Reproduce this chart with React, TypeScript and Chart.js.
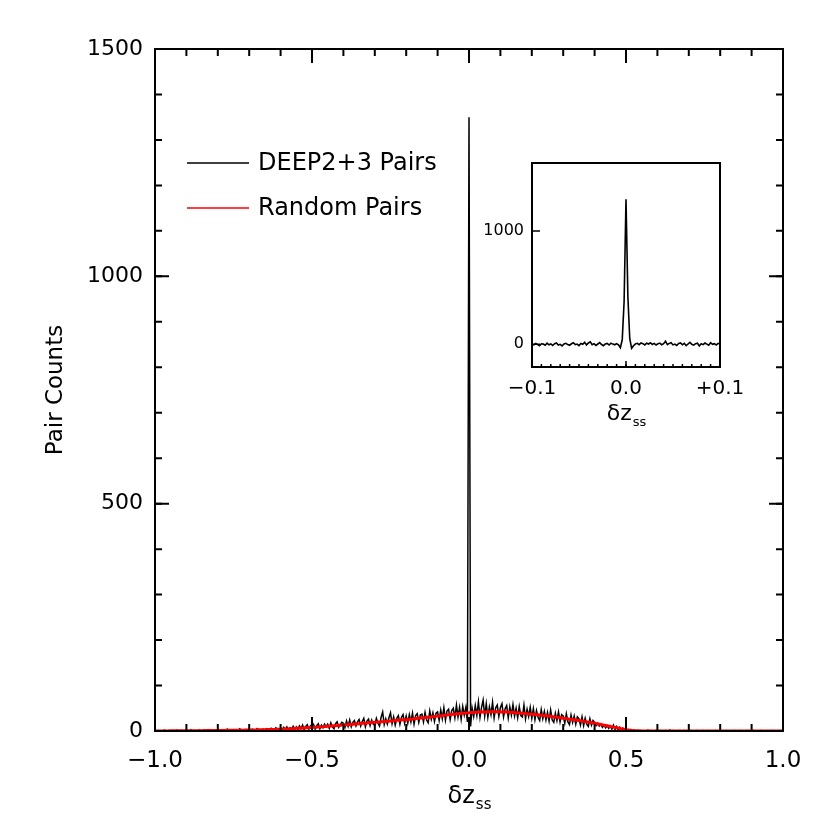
import React, { useEffect, useRef } from "react";
import { Chart, registerables } from "chart.js";

Chart.register(...registerables);

const FONT_FAMILY = '"DejaVu Sans", sans-serif';
const FONT_WEIGHT = "400";

// ---------- main panel data ----------
const deepStart = -1.0;
const deepBinWidth = 0.005;
// DEEP2+3 pair counts, bins of 0.005 from -1.000 to +1.000
const deepPairs = [
  0, 0, 1, 0, 0, 0, 2, 0, 0, 1,
  0, 1, 0, 0, 2, 0, 0, 1, 0, 0,
  1, 0, 0, 3, 0, 1, 0, 0, 2, 1,
  0, 2, 1, 0, 3, 1, 0, 2, 1, 0,
  2, 0, 1, 3, 1, 0, 4, 1, 2, 0,
  1, 3, 0, 2, 5, 1, 2, 0, 3, 2,
  3, 1, 4, 2, 0, 5, 2, 3, 1, 4,
  2, 5, 3, 1, 6, 4, 2, 7, 3, 4,
  6, 2, 8, 3, 9, 1, 7, 4, 10, 3,
  9, 3, 11, 5, 13, 2, 10, 14, 4, 11,
  6, 14, 4, 12, 16, 5, 13, 7, 15, 9,
  15, 6, 18, 9, 5, 16, 20, 8, 14, 19,
  17, 8, 22, 10, 24, 9, 19, 23, 11, 20,
  25, 11, 21, 28, 9, 22, 26, 12, 24, 15,
  13, 28, 17, 11, 30, 42, 14, 27, 15, 29,
  40, 16, 31, 13, 28, 34, 15, 30, 36, 17,
  33, 17, 36, 20, 39, 15, 34, 38, 19, 35,
  37, 20, 41, 24, 18, 44, 26, 40, 21, 39,
  42, 23, 46, 27, 51, 24, 44, 48, 25, 45,
  50, 29, 57, 31, 52, 26, 54, 35, 52, 20,
  1350, 10, 50, 32, 56, 34, 64, 30, 52, 68,
  33, 60, 30, 53, 36, 63, 29, 51, 57, 32,
  52, 60, 31, 49, 56, 29, 53, 35, 58, 33,
  50, 29, 54, 34, 31, 57, 27, 48, 32, 52,
  28, 49, 25, 45, 30, 23, 47, 27, 43, 24,
  41, 22, 46, 24, 19, 39, 23, 42, 20, 36,
  33, 17, 38, 20, 14, 35, 19, 33, 15, 31,
  27, 13, 31, 12, 28, 15, 10, 27, 13, 23,
  19, 12, 17, 11, 14, 8, 13, 7, 12, 6,
  11, 4, 13, 3, 10, 2, 8, 1, 6, 2,
  3, 1, 2, 0, 1, 2, 0, 1, 0, 1,
  0, 1, 0, 0, 2, 0, 1, 0, 0, 1,
  0, 0, 1, 0, 0, 1, 0, 0, 2, 0,
  1, 0, 0, 0, 1, 0, 0, 1, 0, 0,
  0, 1, 0, 0, 0, 1, 0, 0, 0, 1,
  0, 0, 1, 0, 0, 0, 0, 1, 0, 0,
  1, 0, 0, 0, 1, 0, 0, 0, 0, 1,
  0, 0, 0, 1, 0, 0, 0, 1, 0, 0,
  0, 1, 0, 0, 0, 0, 1, 0, 0, 0,
  0, 0, 0, 1, 0, 0, 0, 0, 1, 0, 0,
];

const randomStart = -1.0;
const randomBinWidth = 0.01;
// Random pair counts, bins of 0.01 from -1.00 to +1.00
const randomPairs = [
  0, 0, 0, 0, 0, 0.3, 0.3, 0.4, 0.5, 0.5,
  0.5, 0.6, 0.6, 0.7, 0.8, 0.8, 0.9, 1, 1, 1.1,
  1.2, 1.2, 1.3, 1.4, 1.5, 1.5, 1.6, 1.8, 1.9, 2,
  2.1, 2.3, 2.4, 2.6, 2.8, 3, 3.1, 3.3, 3.5, 3.8,
  4, 4.3, 4.6, 5, 5.3, 5.8, 6.1, 6.5, 7, 7.4,
  8, 8.3, 8.9, 9.2, 9.8, 10.4, 10.9, 11.6, 12, 12.7,
  13, 13.8, 14.2, 15, 15.4, 16.2, 16.8, 17.3, 18.1, 18.6,
  19, 19.8, 20.2, 21.1, 21.5, 22.2, 22.8, 23.4, 24.1, 24.6,
  25, 25.9, 26.5, 27.4, 28, 29, 29.6, 30.5, 31.2, 32.1,
  33, 33.6, 34.5, 35.3, 36.2, 37, 37.5, 38.4, 39, 39.6,
  40, 40.8, 41.2, 41.6, 42.3, 42, 42.6, 42.4, 42.9, 42.5,
  42, 42.4, 41.8, 41.5, 40.9, 40, 39.7, 39, 38.4, 37.6,
  37, 36.3, 35.5, 34.8, 34, 33, 32.2, 31, 30.1, 29,
  28, 27.1, 26, 25.1, 24, 23, 21.9, 20.6, 19.5, 18.2,
  17, 15.6, 14.2, 12.8, 11.4, 10, 8.5, 7, 5.5, 4.2,
  3, 2, 1.2, 0.7, 0.4, 0.2, 0.1, 0, 0, 0,
  0, 0, 0, 0, 0, 0, 0, 0, 0, 0,
  0, 0, 0, 0, 0, 0, 0, 0, 0, 0,
  0, 0, 0, 0, 0, 0, 0, 0, 0, 0,
  0, 0, 0, 0, 0, 0, 0, 0, 0, 0, 0,
];

const mainXRange = [-1, 1];
const mainYRange = [0, 1500];
const mainXMajorTicks = [-1, -0.5, 0, 0.5, 1];
const mainYMajorTicks = [0, 500, 1000, 1500];
const mainXMinorStep = 0.1;
const mainYMinorStep = 100;

const legendLabels = ["DEEP2+3 Pairs", "Random Pairs"];
const legendColors = ["#000000", "#ff0000"];

// ---------- inset data ----------
const insetStart = -0.1;
const insetBinWidth = 0.002;
const insetPairs = [
  0, -5, 8, -3, -12, 5, 2, -8, 10, -4,
  3, -10, 6, 12, -6, 0, -14, 4, 9, -2,
  -8, 5, 14, -3, 2, -11, 7, 0, 18, -5,
  12, 22, -4, 6, -9, 3, 15, -2, -12, 4,
  8, -6, 10, 2, -4, 6, -5, -30, 40, 380,
  1280, 420, 50, -35, -12, 4, 9, -3, 12, 6,
  -5, 10, 3, 14, -2, 8, -6, 5, 11, -4,
  6, 28, -3, 8, 15, -5, 2, -10, 7, 12,
  -4, 9, -12, 3, 18, 0, -7, 6, 10, -14,
  5, -3, 11, 2, -8, 14, 0, 6, -6, 9,
  3,
];
const insetXRange = [-0.1, 0.1];
const insetYRange = [-200, 1600];
const insetXMajorTicks = [-0.1, 0, 0.1];
const insetXTickLabels = ["\u22120.1", "0.0", "+0.1"];
const insetYMajorTicks = [0, 1000];
const insetXMinorStep = 0.01;

const fmtMain = (v: number) => {
  const s = v.toFixed(1);
  return v < 0 ? "\u2212" + s.slice(1) : s;
};

const toPoints = (start: number, width: number, arr: number[]) =>
  arr.map((v, i) => ({ x: +(start + i * width).toFixed(4), y: v }));

const font = (size: number) => `${FONT_WEIGHT} ${size}px ${FONT_FAMILY}`;

function drawTicksForAxis(
  ctx: CanvasRenderingContext2D,
  chart: any,
  axis: "x" | "y",
  values: number[],
  len: number,
  sides: { low: boolean; high: boolean }
) {
  const a = chart.chartArea;
  const sc = chart.scales[axis];
  ctx.beginPath();
  values.forEach((v) => {
    const p = sc.getPixelForValue(v);
    if (axis === "x") {
      if (sides.low) {
        ctx.moveTo(p, a.bottom);
        ctx.lineTo(p, a.bottom - len);
      }
      if (sides.high) {
        ctx.moveTo(p, a.top);
        ctx.lineTo(p, a.top + len);
      }
    } else {
      if (sides.low) {
        ctx.moveTo(a.left, p);
        ctx.lineTo(a.left + len, p);
      }
      if (sides.high) {
        ctx.moveTo(a.right, p);
        ctx.lineTo(a.right - len, p);
      }
    }
  });
  ctx.stroke();
}

function range(min: number, max: number, step: number) {
  const out: number[] = [];
  const n = Math.round((max - min) / step);
  for (let i = 0; i <= n; i++) out.push(+(min + i * step).toFixed(4));
  return out;
}

function drawSubTitle(ctx: CanvasRenderingContext2D, cx: number, y: number, big: number, small: number) {
  ctx.save();
  ctx.fillStyle = "#000";
  ctx.textBaseline = "alphabetic";
  ctx.font = font(big);
  const w1 = ctx.measureText("\u03b4z").width;
  ctx.font = font(small);
  const w2 = ctx.measureText("ss").width;
  const x0 = cx - (w1 + w2) / 2;
  ctx.font = font(big);
  ctx.textAlign = "left";
  ctx.fillText("\u03b4z", x0, y);
  ctx.font = font(small);
  ctx.fillText("ss", x0 + w1 + 1, y + big * 0.25);
  ctx.restore();
}

const mainDecor = {
  id: "mainDecor",
  afterDraw(chart: any) {
    const ctx = chart.ctx as CanvasRenderingContext2D;
    const a = chart.chartArea;
    ctx.save();
    ctx.strokeStyle = "#000";
    ctx.lineWidth = 2;
    ctx.strokeRect(a.left, a.top, a.right - a.left, a.bottom - a.top);
    drawTicksForAxis(ctx, chart, "x", range(mainXRange[0], mainXRange[1], mainXMinorStep), 7, { low: true, high: true });
    drawTicksForAxis(ctx, chart, "x", mainXMajorTicks, 14, { low: true, high: true });
    drawTicksForAxis(ctx, chart, "y", range(mainYRange[0], mainYRange[1], mainYMinorStep), 7, { low: true, high: true });
    drawTicksForAxis(ctx, chart, "y", mainYMajorTicks, 14, { low: true, high: true });

    // axis titles
    drawSubTitle(ctx, (a.left + a.right) / 2, 803, 24, 15);
    ctx.fillStyle = "#000";
    ctx.font = font(23);
    ctx.textAlign = "center";
    ctx.textBaseline = "middle";
    ctx.translate(56, (a.top + a.bottom) / 2);
    ctx.rotate(-Math.PI / 2);
    ctx.fillText("Pair Counts", 0, 0);
    ctx.restore();

    // legend
    ctx.save();
    const ly = [163, 208];
    legendLabels.forEach((lab, i) => {
      ctx.strokeStyle = legendColors[i];
      ctx.lineWidth = 1.5;
      ctx.beginPath();
      ctx.moveTo(187, ly[i]);
      ctx.lineTo(249, ly[i]);
      ctx.stroke();
      ctx.fillStyle = "#000";
      ctx.font = font(24);
      ctx.textAlign = "left";
      ctx.textBaseline = "middle";
      ctx.fillText(lab, 258, ly[i] + 1);
    });
    ctx.restore();
  },
};

const insetDecor = {
  id: "insetDecor",
  beforeDraw(chart: any) {
    const ctx = chart.ctx as CanvasRenderingContext2D;
    const a = chart.chartArea;
    ctx.save();
    ctx.fillStyle = "#fff";
    ctx.fillRect(a.left, a.top, a.right - a.left, a.bottom - a.top);
    ctx.restore();
  },
  afterDraw(chart: any) {
    const ctx = chart.ctx as CanvasRenderingContext2D;
    const a = chart.chartArea;
    ctx.save();
    ctx.strokeStyle = "#000";
    ctx.lineWidth = 2;
    ctx.strokeRect(a.left, a.top, a.right - a.left, a.bottom - a.top);
    ctx.lineWidth = 1.5;
    drawTicksForAxis(ctx, chart, "x", range(insetXRange[0], insetXRange[1], insetXMinorStep), 3, { low: true, high: false });
    drawTicksForAxis(ctx, chart, "x", insetXMajorTicks, 6, { low: true, high: false });
    drawTicksForAxis(ctx, chart, "y", insetYMajorTicks, 8, { low: true, high: false });
    ctx.restore();
    drawSubTitle(ctx, (a.left + a.right) / 2, 280, 22, 13);
  },
};

export default function App() {
  const mainRef = useRef<HTMLCanvasElement>(null);
  const insetRef = useRef<HTMLCanvasElement>(null);

  useEffect(() => {
    if (!mainRef.current || !insetRef.current) return;
    const main = new Chart(mainRef.current, {
      type: "line",
      data: {
        datasets: [
          {
            label: legendLabels[1],
            data: toPoints(randomStart, randomBinWidth, randomPairs),
            borderColor: legendColors[1],
            borderWidth: 3,
            pointRadius: 0,
            tension: 0,
            order: 0,
          },
          {
            label: legendLabels[0],
            data: toPoints(deepStart, deepBinWidth, deepPairs),
            borderColor: legendColors[0],
            borderWidth: 1.5,
            pointRadius: 0,
            tension: 0,
            order: 1,
          },
        ],
      },
      options: {
        responsive: false,
        animation: false,
        devicePixelRatio: 1,
        events: [],
        layout: { padding: { top: 49, right: 47, left: 0, bottom: 0 } },
        plugins: { legend: { display: false }, tooltip: { enabled: false } },
        scales: {
          x: {
            type: "linear",
            min: mainXRange[0],
            max: mainXRange[1],
            afterBuildTicks: (s: any) => {
              s.ticks = mainXMajorTicks.map((v) => ({ value: v }));
            },
            afterFit: (s: any) => {
              s.height = 830 - 731;
            },
            grid: { display: false, drawTicks: false },
            border: { display: false },
            ticks: {
              autoSkip: false,
              maxRotation: 0,
              padding: 16,
              color: "#000",
              font: { family: FONT_FAMILY, size: 23, weight: FONT_WEIGHT as any },
              callback: (v: any) => fmtMain(Number(v)),
            },
          },
          y: {
            type: "linear",
            min: mainYRange[0],
            max: mainYRange[1],
            afterBuildTicks: (s: any) => {
              s.ticks = mainYMajorTicks.map((v) => ({ value: v }));
            },
            afterFit: (s: any) => {
              s.width = 155;
            },
            grid: { display: false, drawTicks: false },
            border: { display: false },
            ticks: {
              autoSkip: false,
              padding: 12,
              color: "#000",
              font: { family: FONT_FAMILY, size: 22, weight: FONT_WEIGHT as any },
              callback: (v: any) => String(v),
            },
          },
        },
      },
      plugins: [mainDecor],
    });

    const inset = new Chart(insetRef.current, {
      type: "line",
      data: {
        datasets: [
          {
            label: "inset",
            data: toPoints(insetStart, insetBinWidth, insetPairs),
            borderColor: "#000",
            borderWidth: 1.6,
            pointRadius: 0,
            tension: 0,
          },
        ],
      },
      options: {
        responsive: false,
        animation: false,
        devicePixelRatio: 1,
        events: [],
        layout: { padding: { top: 23, right: 50, left: 0, bottom: 0 } },
        plugins: { legend: { display: false }, tooltip: { enabled: false } },
        scales: {
          x: {
            type: "linear",
            min: insetXRange[0],
            max: insetXRange[1],
            afterBuildTicks: (s: any) => {
              s.ticks = insetXMajorTicks.map((v) => ({ value: v }));
            },
            afterFit: (s: any) => {
              s.height = 290 - 227;
            },
            grid: { display: false, drawTicks: false },
            border: { display: false },
            ticks: {
              autoSkip: false,
              maxRotation: 0,
              padding: 10,
              color: "#000",
              font: { family: FONT_FAMILY, size: 20, weight: FONT_WEIGHT as any },
              callback: (_v: any, i: number) => insetXTickLabels[i],
            },
          },
          y: {
            type: "linear",
            min: insetYRange[0],
            max: insetYRange[1],
            afterBuildTicks: (s: any) => {
              s.ticks = insetYMajorTicks.map((v) => ({ value: v }));
            },
            afterFit: (s: any) => {
              s.width = 62;
            },
            grid: { display: false, drawTicks: false },
            border: { display: false },
            ticks: {
              autoSkip: false,
              padding: 8,
              color: "#000",
              font: { family: FONT_FAMILY, size: 16, weight: FONT_WEIGHT as any },
              callback: (v: any) => String(v),
            },
          },
        },
      },
      plugins: [insetDecor],
    });

    return () => {
      main.destroy();
      inset.destroy();
    };
  }, []);

  return (
    <div style={{ position: "absolute", left: 0, top: 0, width: 830, height: 830, background: "#fff" }}>
      <canvas ref={mainRef} width={830} height={830} style={{ position: "absolute", left: 0, top: 0, width: 830, height: 830 }} />
      <canvas ref={insetRef} width={300} height={290} style={{ position: "absolute", left: 470, top: 140, width: 300, height: 290 }} />
    </div>
  );
}
